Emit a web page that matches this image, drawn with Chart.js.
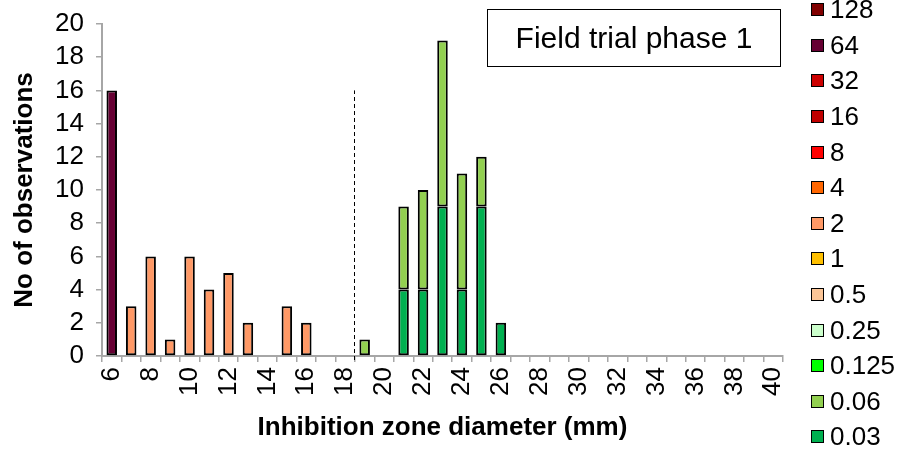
<!DOCTYPE html>
<html lang="en">
<head>
    <meta charset="UTF-8">
    <title>Field trial phase 1</title>
    <script src="https://cdn.jsdelivr.net/npm/chart.js"></script>
    <style>
        body {
            margin: 0;
            background: #ffffff;
            font-family: "Liberation Sans", Arial, sans-serif;
        }
        #wrap {
            position: relative;
            width: 902px;
            height: 449px;
        }
        #titleBox {
            position: absolute;
            left: 487px;
            top: 9px;
            width: 292px;
            height: 56px;
            border: 1.5px solid #000;
            font-size: 30px;
            line-height: 56px;
            text-align: center;
            color: #000;
        }
        #legend {
            position: absolute;
            left: 811px;
            top: -8px;
        }
        .item {
            height: 35.6px;
            display: flex;
            align-items: center;
            font-size: 26px;
            color: #000;
        }
        .box {
            width: 11px;
            height: 11px;
            border: 1.5px solid #000;
            margin-right: 6px;
        }
    </style>
</head>
<body>
<div id="wrap">
    <canvas id="micChart" width="902" height="449"></canvas>
    <div id="titleBox">Field trial phase 1</div>
    <div id="legend"></div>
</div>
<script>
    // x categories: inhibition zone diameter (mm)
    const diameters = [6, 7, 8, 9, 10, 11, 12, 13, 14, 15, 16, 17, 18, 19, 20, 21, 22, 23,
        24, 25, 26, 27, 28, 29, 30, 31, 32, 33, 34, 35, 36, 37, 38, 39, 40];

    // MIC classes, bottom of the stack first
    const micLabels = ['0.03', '0.06', '0.125', '0.25', '0.5', '1', '2', '4', '8', '16', '32', '64', '128'];
    const micColors = ['#00b050', '#92d050', '#00ff00', '#ccffcc', '#fbc597', '#ffc000', '#ff9966',
        '#ff6600', '#ff0000', '#c00000', '#cc0000', '#660033', '#800000'];

    // number of observations per diameter (6, 7, 8 ... mm)
    const obs003 = [null, null, null, null, null, null, null, null, null, null, null, null, null, null, null, 4, 4, 9, 4, 9, 2];
    const obs006 = [null, null, null, null, null, null, null, null, null, null, null, null, null, 1, null, 5, 6, 10, 7, 3];
    const obs0125 = [];
    const obs025 = [];
    const obs05 = [];
    const obs1 = [];
    const obs2 = [null, 3, 6, 1, 6, 4, 5, 2, null, 3, 2];
    const obs4 = [];
    const obs8 = [];
    const obs16 = [];
    const obs32 = [];
    const obs64 = [16];
    const obs128 = [];
    const seriesValues = [obs003, obs006, obs0125, obs025, obs05, obs1, obs2, obs4, obs8, obs16, obs32, obs64, obs128];

    // dashed breakpoint line between 18 and 19 mm, up to 16 observations
    const breakAfter = 18;
    const breakHeight = 16;

    const yTicks = [0, 2, 4, 6, 8, 10, 12, 14, 16, 18, 20];

    const font = '"Liberation Sans", Arial, sans-serif';
    const axisGray = '#a6a6a6';

    const datasets = micLabels.map((lab, i) => ({
        label: lab,
        data: seriesValues[i],
        backgroundColor: micColors[i],
        borderColor: '#000000',
        borderWidth: 2,
        borderSkipped: false,
        barPercentage: 0.54,
        categoryPercentage: 1.0
    }));

    const breakLine = {
        id: 'breakLine',
        afterDatasetsDraw(chart) {
            const xs = chart.scales.x, ys = chart.scales.y;
            const i = diameters.indexOf(breakAfter);
            const x = Math.round((xs.getPixelForValue(i) + xs.getPixelForValue(i + 1)) / 2) - 0.5;
            const ctx = chart.ctx;
            ctx.save();
            ctx.strokeStyle = '#000';
            ctx.lineWidth = 1;
            ctx.setLineDash([4, 3]);
            ctx.beginPath();
            ctx.moveTo(x, ys.getPixelForValue(0) + 4);
            ctx.lineTo(x, ys.getPixelForValue(breakHeight));
            ctx.stroke();
            ctx.restore();
        }
    };

    new Chart(document.getElementById('micChart'), {
        type: 'bar',
        data: { labels: diameters, datasets: datasets },
        plugins: [breakLine],
        options: {
            responsive: false,
            animation: false,
            layout: { padding: { left: 0, right: 119, top: 24, bottom: 0 } },
            plugins: {
                legend: { display: false },
                tooltip: { enabled: false }
            },
            scales: {
                x: {
                    stacked: true,
                    afterFit(s) { s.height = 93; },
                    grid: {
                        offset: true,
                        drawOnChartArea: false,
                        color: axisGray,
                        lineWidth: 1.5,
                        tickLength: 6
                    },
                    border: { color: axisGray, width: 2 },
                    ticks: {
                        autoSkip: false,
                        minRotation: 90,
                        maxRotation: 90,
                        padding: 5,
                        color: '#000',
                        font: { family: font, size: 26 },
                        callback(v, i) { return diameters[i] % 2 === 0 ? String(diameters[i]) : ''; }
                    },
                    title: {
                        display: true,
                        text: 'Inhibition zone diameter (mm)',
                        color: '#000',
                        font: { family: font, size: 26, weight: 'bold' },
                        padding: { top: 0, bottom: 6 }
                    }
                },
                y: {
                    stacked: true,
                    min: 0,
                    max: 20,
                    afterFit(s) {
                        s.width = 102;
                        s.paddingTop = 4;
                        s.paddingBottom = 4;
                    },
                    afterBuildTicks(s) { s.ticks = yTicks.map(v => ({ value: v })); },
                    grid: {
                        drawOnChartArea: false,
                        color: axisGray,
                        lineWidth: 1.5,
                        tickLength: 6
                    },
                    border: { color: axisGray, width: 2 },
                    ticks: {
                        autoSkip: false,
                        padding: 12,
                        color: '#000',
                        font: { family: font, size: 26 }
                    },
                    title: {
                        display: true,
                        text: 'No of observations',
                        color: '#000',
                        font: { family: font, size: 26, weight: 'bold' },
                        padding: { top: 9, bottom: 0 }
                    }
                }
            }
        }
    });

    // legend, highest MIC on top
    const legendEl = document.getElementById('legend');
    for (let i = micLabels.length - 1; i >= 0; i--) {
        const row = document.createElement('div');
        row.className = 'item';
        const box = document.createElement('span');
        box.className = 'box';
        box.style.background = micColors[i];
        row.appendChild(box);
        row.appendChild(document.createTextNode(micLabels[i]));
        legendEl.appendChild(row);
    }
</script>
</body>
</html>
